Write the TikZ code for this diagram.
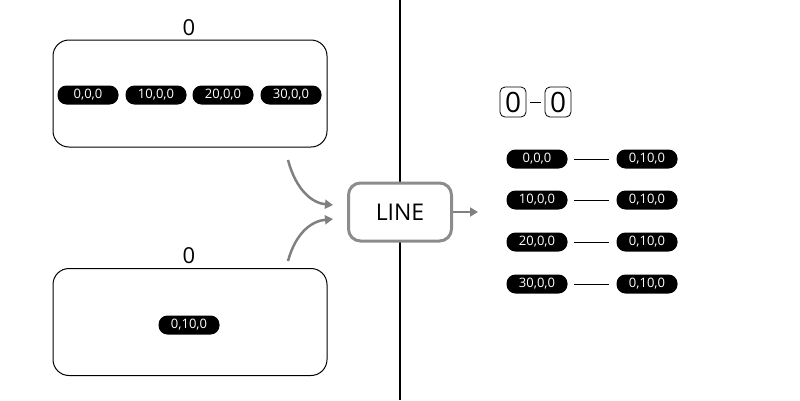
\documentclass[tikz,border=0pt]{standalone}
\usepackage{fontspec}
\setmainfont{Open Sans}
\usetikzlibrary{arrows.meta,calc}
\begin{document}
\begin{tikzpicture}[x=1pt,y=-1pt,
  pill/.style={fill=black,text=white,rounded corners=9pt,minimum width=61pt,minimum height=19pt,inner sep=0pt,font=\fontsize{13}{13}\selectfont},
  group/.style={draw=black,line width=1pt,rounded corners=16pt,minimum width=274pt,minimum height=107pt,inner sep=0pt},
  glabel/.style={font=\fontsize{22}{22}\selectfont,inner sep=0pt},
  op/.style={draw=gray!90,line width=3pt,rounded corners=12pt,minimum width=103pt,minimum height=58pt,inner sep=0pt,font=\fontsize{23}{23}\selectfont},
  flow/.style={draw=gray,line width=2.5pt,-{Triangle[length=8pt,width=9pt]}},
  zbox/.style={draw=black,line width=0.8pt,rounded corners=5pt,minimum width=26pt,minimum height=30pt,inner sep=0pt,font=\fontsize{28}{28}\selectfont},
  link/.style={draw=black,line width=1pt}]
\useasboundingbox (0,0) rectangle (800,400);
\coordinate (vtop) at (400,0);
\coordinate (vbot) at (400,400);
\draw[line width=2pt] (vtop) -- (vbot);
% top group
\node[group] (g1) at (190,93.5) {};
\node[glabel] (g1l) at (189,28) {0};
\node[pill] (a1) at (88,95) {0,0,0};
\node[pill] (a2) at (156,95) {10,0,0};
\node[pill] (a3) at (223,95) {20,0,0};
\node[pill] (a4) at (291,95) {30,0,0};
% bottom group
\node[group] (g2) at (190,322) {};
\node[glabel] (g2l) at (189,256) {0};
\node[pill] (b1) at (189,325) {0,10,0};
% operator
\node[op,fill=white] (line) at (400,212) {LINE};
\coordinate (s1) at (288,160);
\coordinate (e1) at (333,205);
\coordinate (s2) at (288,261);
\coordinate (e2) at (333,219);
\coordinate (o1) at (478,212);
\draw[flow] (s1) .. controls (296,190) and (312,203) .. (e1);
\draw[flow] (s2) .. controls (296,232) and (312,221) .. (e2);
\draw[flow] (line.east) -- (o1);
% result
\node[zbox] (z1) at (513,102) {0};
\node[zbox] (z2) at (558,102) {0};
\draw[line width=0.9pt] ($(z1.east)+(4,0)$) -- ($(z2.west)+(-4,0)$);
\node[pill] (r1) at (537,159) {0,0,0};
\node[pill] (q1) at (647,159) {0,10,0};
\node[pill] (r2) at (537,200) {10,0,0};
\node[pill] (q2) at (647,200) {0,10,0};
\node[pill] (r3) at (537,242) {20,0,0};
\node[pill] (q3) at (647,242) {0,10,0};
\node[pill] (r4) at (537,284) {30,0,0};
\node[pill] (q4) at (647,284) {0,10,0};
\foreach \i in {1,...,4}{
  \draw[link] ($(r\i.east)+(6.5,0)$) -- ($(q\i.west)+(-7.5,0)$);
}
\end{tikzpicture}
\end{document}
